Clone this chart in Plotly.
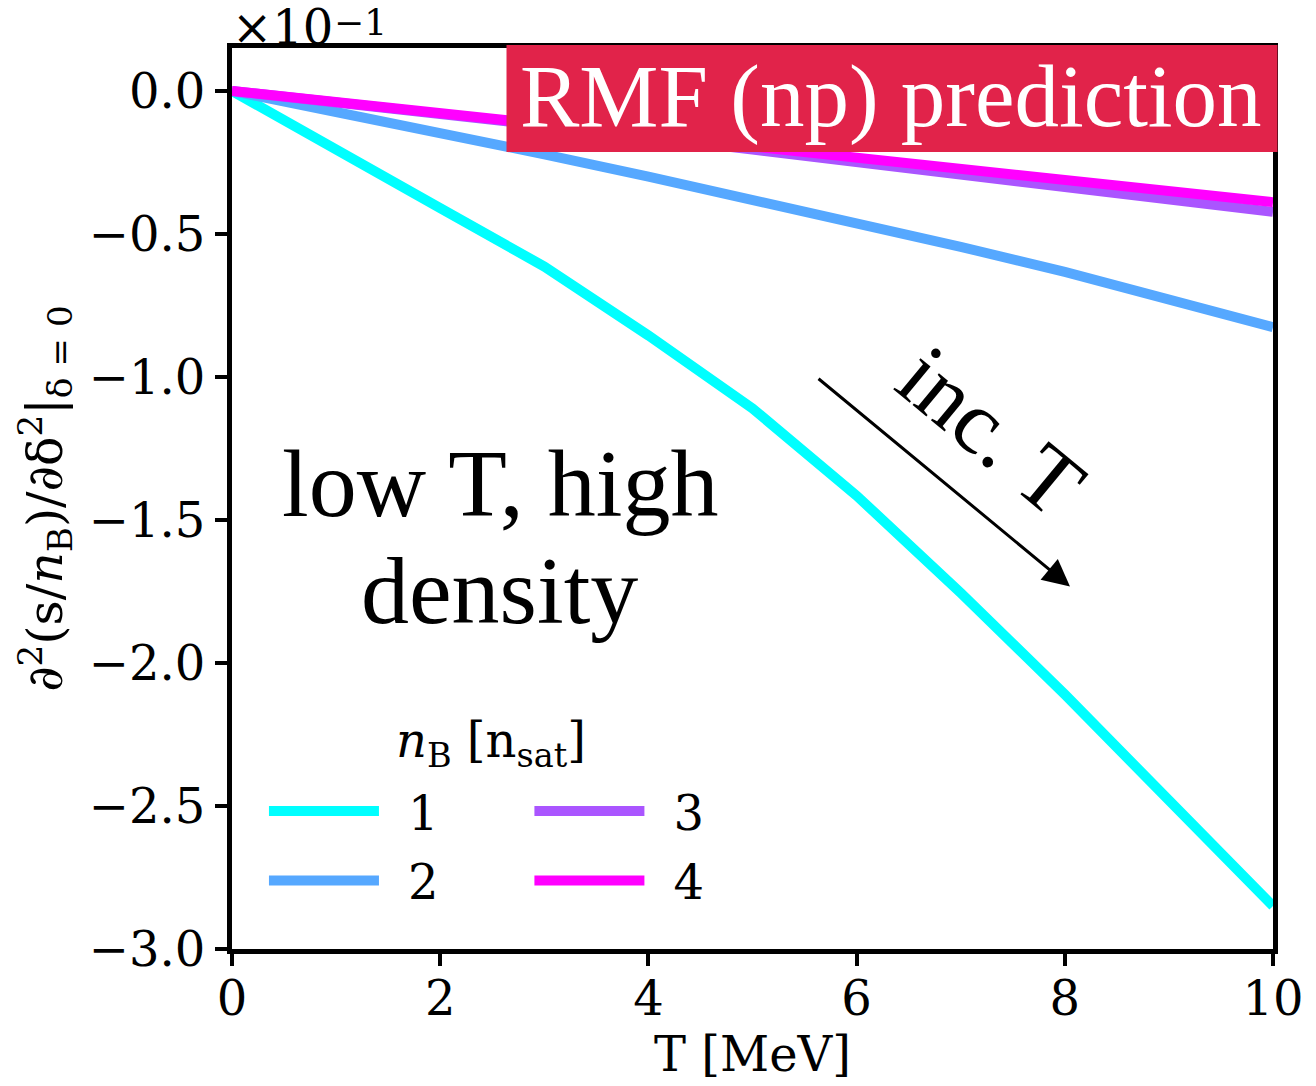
import plotly.graph_objects as go

# ---- data (values in units of 1e-1) ----
T = [0, 1, 2, 3, 4, 5, 6, 7, 8, 9, 10]
series_names = ["1", "2", "3", "4"]
series_colors = ["#00FFFF", "#56A8FF", "#AA55FF", "#FF00FF"]
y_n1 = [0.0, -0.210, -0.410, -0.614, -0.855, -1.110, -1.415, -1.755, -2.110, -2.480, -2.850]
y_n2 = [0.0, -0.072, -0.146, -0.222, -0.300, -0.380, -0.460, -0.545, -0.633, -0.727, -0.826]
y_n3 = [0.0, -0.039, -0.079, -0.120, -0.162, -0.205, -0.250, -0.295, -0.338, -0.380, -0.423]
y_n4 = [0.0, -0.039, -0.078, -0.117, -0.156, -0.195, -0.234, -0.273, -0.312, -0.350, -0.389]
series_values = [y_n1, y_n2, y_n3, y_n4]

x_ticks = [0, 2, 4, 6, 8, 10]
x_tick_labels = ["0", "2", "4", "6", "8", "10"]
y_ticks = [0.0, -0.5, -1.0, -1.5, -2.0, -2.5, -3.0]
y_tick_labels = ["0.0", "\u22120.5", "\u22121.0", "\u22121.5", "\u22122.0", "\u22122.5", "\u22123.0"]

SERIF = "DejaVu Serif"
TIMES = "Liberation Serif"

fig = go.Figure()
legend_of = ["legend", "legend", "legend2", "legend2"]
for name, col, vals, lg in zip(series_names, series_colors, series_values, legend_of):
    fig.add_trace(go.Scatter(
        x=T, y=vals, mode="lines", name="\u2002" + name,
        line=dict(color=col, width=10),
        legend=lg, legendgroup="g" + name,
    ))

axis_common = dict(
    showline=True, linecolor="black", linewidth=5, mirror=True,
    ticks="outside", ticklen=12, tickwidth=4, tickcolor="black",
    showgrid=False, zeroline=False,
    tickfont=dict(family=SERIF, size=48, color="black"),
)

legend_common = dict(
    xanchor="left", yanchor="top", bgcolor="rgba(0,0,0,0)",
    itemwidth=110, tracegroupgap=4,
    font=dict(family=SERIF, size=48, color="black"),
)

fig.update_layout(
    width=1316, height=1086,
    margin=dict(l=232, r=41, t=48, b=137),
    paper_bgcolor="white", plot_bgcolor="white",
    xaxis=dict(range=[0, 10], tickvals=x_ticks, ticktext=x_tick_labels,
               ticklabelstandoff=-9,
               title=dict(text="T [MeV]", font=dict(family=SERIF, size=48, color="black"), standoff=0),
               **axis_common),
    yaxis=dict(range=[-3.0, 0.15], tickvals=y_ticks, ticktext=y_tick_labels,
               title=dict(text="\u2202<sup>2</sup>(s/<i>n</i><sub>B</sub>)/\u2202\u03b4<sup>2</sup>|<sub>\u03b4 = 0</sub>",
                          font=dict(family=SERIF, size=49, color="black"), standoff=12),
               **axis_common),
    legend=dict(x=0.0307, y=0.195, **legend_common),
    legend2=dict(x=0.2857, y=0.195, **legend_common),
    showlegend=True,
)

# legend title
fig.add_annotation(x=0.249, y=0.2286, xref="paper", yref="paper", xanchor="center", yanchor="middle",
                   text="<i>n</i><sub>B</sub> [n<sub>sat</sub>]", showarrow=False,
                   font=dict(family=SERIF, size=48, color="black"))

# exponent label (x10^-1)
fig.add_annotation(x=0, y=1, xref="paper", yref="paper", xanchor="left", yanchor="bottom",
                   text="\u00d710", showarrow=False, yshift=-9, xshift=-2,
                   font=dict(family=SERIF, size=48, color="black"))
fig.add_annotation(x=0, y=1, xref="paper", yref="paper", xanchor="left", yanchor="bottom",
                   text="\u22121", showarrow=False, yshift=3, xshift=100,
                   font=dict(family=SERIF, size=36, color="black"))

# red label box
fig.add_shape(type="rect", xref="paper", yref="paper", x0=0.2637, x1=1.0043, y0=0.8846, y1=1.0033,
              fillcolor="#E1234A", line=dict(width=0), layer="above")
fig.add_annotation(x=0.633, y=0.947, xref="paper", yref="paper", xanchor="center", yanchor="middle",
                   text="RMF (np) prediction", showarrow=False,
                   font=dict(family=TIMES, size=89, color="white"))

# low T, high density
fig.add_annotation(x=0.257, y=0.517, xref="paper", yref="paper", xanchor="center", yanchor="middle",
                   text="low T, high", showarrow=False,
                   font=dict(family=TIMES, size=96, color="black"))
fig.add_annotation(x=0.257, y=0.398, xref="paper", yref="paper", xanchor="center", yanchor="middle",
                   text="density", showarrow=False,
                   font=dict(family=TIMES, size=96, color="black"))

# arrow inc. T
fig.add_annotation(x=8.05, y=-1.733, ax=5.62, ay=-1.002, xref="x", yref="y", axref="x", ayref="y",
                   text="", showarrow=True, arrowhead=2, arrowsize=1.8, arrowwidth=3, arrowcolor="black")
fig.add_annotation(x=0.729, y=0.575, xref="paper", yref="paper", xanchor="center", yanchor="middle",
                   text="inc. T", showarrow=False, textangle=39.6,
                   font=dict(family=TIMES, size=90, color="black"))

fig.write_html("out.html")
